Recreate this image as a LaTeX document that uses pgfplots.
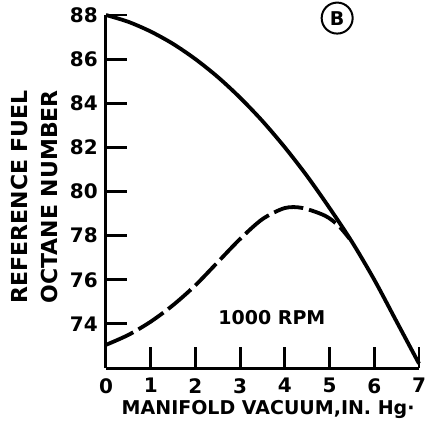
\documentclass[border=0pt]{standalone}
\usepackage{fontspec}
\setmainfont{DejaVu Sans}
\usepackage{pgfplots}
\pgfplotsset{compat=1.18}
\begin{document}
\begin{tikzpicture}
\useasboundingbox (-106pt,-57pt) rectangle (319pt,368pt);
\begin{axis}[
  at={(0,0)}, anchor=south west,
  scale only axis, width=313pt, height=353pt,
  xmin=0, xmax=7, ymin=72, ymax=88,
  axis x line=bottom, axis y line=left,
  axis line style={-, line width=3pt},
  xtick={0,1,...,7}, ytick={74,76,...,88},
  tick align=inside, major tick length=21pt,
  every tick/.style={black, line width=2.8pt},
  /pgf/number format/assume math mode=true,
  tick label style={font=\fontsize{20}{20}\selectfont\bfseries, inner sep=0pt},
  xticklabel style={anchor=north, yshift=-10pt},
  yticklabel style={anchor=east, xshift=-8pt},
  xlabel={MANIFOLD VACUUM,IN. Hg·},
  ylabel={REFERENCE FUEL\\OCTANE NUMBER},
  xlabel style={font=\fontsize{19}{19}\selectfont\bfseries, at={(rel axis cs:0.518,0)}, anchor=center, yshift=-41pt},
  ylabel style={font=\fontsize{22}{30}\selectfont\bfseries, align=center, at={(rel axis cs:0,0.485)}, anchor=center, yshift=72pt},
  clip=false,
]
\addplot[black, line width=3.8pt, smooth] coordinates {
(0,88.0) (0.5,87.69) (1,87.25) (1.5,86.69) (2,86.0) (2.5,85.19) (3,84.25) (3.5,83.19) (4,82.0) (4.5,80.69) (5,79.25) (5.5,77.72) (6,76.0) (6.5,74.1) (7,72.2)
};
\addplot[black, line width=3.8pt, smooth, dash pattern=on 30pt off 6pt] coordinates {
(0,73.05) (0.5,73.5) (1,74.1) (1.5,74.85) (2,75.75) (2.5,76.8) (3,77.85) (3.5,78.75) (4,79.25) (4.4,79.25) (4.9,78.9) (5.2,78.45) (5.45,77.85)
};
\node[font=\fontsize{19}{19}\selectfont\bfseries] at (axis cs:3.71,74.27) {1000 RPM};
\node[circle, draw, line width=2pt, minimum size=31pt, inner sep=0pt, font=\fontsize{19}{19}\selectfont\bfseries] at (axis cs:5.17,87.86) {B};
\end{axis}
\end{tikzpicture}
\end{document}
